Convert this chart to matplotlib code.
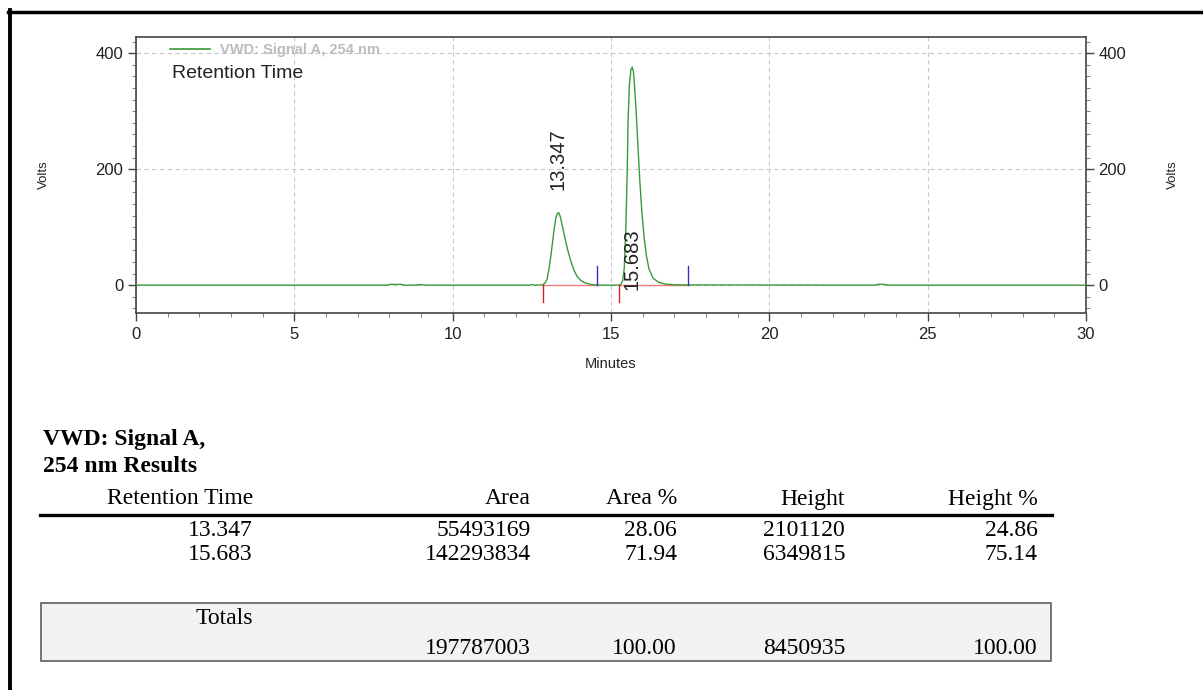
import matplotlib.pyplot as plt
from matplotlib.lines import Line2D
from matplotlib.patches import Rectangle
from matplotlib.ticker import MultipleLocator

plt.rcParams['font.family'] = ['Liberation Sans', 'DejaVu Sans']

# chromatogram trace (minutes, volts)
time_min = [0, 7.9, 8.05, 8.2, 8.35, 8.5, 8.85, 8.95, 9.05, 9.15,
            12.4, 12.5, 12.6, 12.84, 12.92, 12.98, 13.04, 13.10, 13.15, 13.20,
            13.26, 13.31, 13.35, 13.40, 13.46, 13.53, 13.60, 13.66, 13.74, 13.83,
            13.93, 14.05, 14.18, 14.33, 14.5, 14.7, 15.2, 15.30, 15.37, 15.42,
            15.47, 15.51, 15.54, 15.58, 15.63, 15.67, 15.71, 15.76, 15.81, 15.86,
            15.91, 15.97, 16.04, 16.12, 16.2, 16.33, 16.5, 16.7, 17.0,
            23.3, 23.45, 23.6, 23.75, 30]
signal = [0, 0, 1.5, 1.2, 1.5, 0, 0, 1.0, 0.8, 0,
          0, 1.0, 0, 0.5, 4, 10, 28, 50, 72, 95,
          116, 124, 125, 118, 103, 85, 68, 55, 40, 26,
          15, 8, 4, 1.5, 0.5, 0, 0, 0.5, 8, 30,
          100, 190, 284, 345, 372, 376, 368, 330, 284, 230,
          180, 130, 85, 50, 28, 12, 5, 2, 0.5,
          0, 1.5, 1.5, 0, 0]

peak_times = [13.347, 15.683]
peak_labels = ["13.347", "15.683"]
label_base = [164, -9]          # where the rotated labels start
peak_start = [12.84, 15.25]     # red marks
peak_end = [14.55, 17.42]       # blue marks

# results table
ret_times = [13.347, 15.683]
areas = [55493169, 142293834]
area_pct = [28.06, 71.94]
heights = [2101120, 6349815]
height_pct = [24.86, 75.14]
total_area = 197787003
total_area_pct = 100.00
total_height = 8450935
total_height_pct = 100.00

W, H = 1203, 690
fig = plt.figure(figsize=(W / 100, H / 100), dpi=100)
ax = fig.add_axes([136 / W, 1 - 313 / H, 950 / W, 276 / H])

green = '#3a9a3a'
ax.plot(time_min, signal, color=green, lw=1.0, zorder=3)
for s, e in zip(peak_start, peak_end):
    ax.plot([s, e], [0, 0], color='#f08080', lw=1.0, zorder=2)
    ax.plot([s, s], [0, -29], color='#e02020', lw=1.0, zorder=4)
    ax.plot([e, e], [0, 33], color='#3030c0', lw=1.0, zorder=4)
for t, lab, yb in zip(peak_times, peak_labels, label_base):
    ax.text(t - 0.03, yb, lab, rotation=90, ha='center', va='bottom',
            fontsize=14.5, color='#222222', zorder=5)

ax.set_xlim(0, 30)
ax.set_ylim(-48, 428)
ax.xaxis.set_major_locator(MultipleLocator(5))
ax.xaxis.set_minor_locator(MultipleLocator(1))
ax.yaxis.set_major_locator(MultipleLocator(200))
ax.yaxis.set_minor_locator(MultipleLocator(20))
ax.grid(True, which='major', linestyle=(0, (4, 3)), color='#c8c8c8', lw=0.8, zorder=0)
ax.tick_params(which='major', length=6, width=1, color='#444444',
               labelsize=12, labelcolor='#222222', pad=4)
ax.tick_params(which='minor', length=3, width=0.8, color='#888888')
ax.tick_params(axis='y', which='both', right=True, labelright=True, pad=3)
for sp in ax.spines.values():
    sp.set_color('#444444')
    sp.set_linewidth(1.2)

ax.set_xlabel("Minutes", fontsize=10.5, color='#222222')
ax.xaxis.set_label_coords(0.5, -0.16)
ax.set_ylabel("Volts", fontsize=9.5, color='#222222')
ax.yaxis.set_label_coords(-0.0905, 0.5)
ax.text(1.0916, 0.5, "Volts", rotation=90, ha='center', va='center',
        fontsize=9.5, color='#222222', transform=ax.transAxes)

ax.legend([Line2D([0], [0], color=green, lw=1.2)], ["VWD: Signal A, 254 nm"],
          loc='upper left', bbox_to_anchor=(0.036, 0.978), frameon=False,
          labelcolor='#bcbcbc', prop={'weight': 'bold', 'size': 10.5},
          handlelength=2.7, handletextpad=0.7, borderpad=0, borderaxespad=0)
ax.text(0.0378, 0.866, "Retention Time", fontsize=14, color='#222222',
        ha='left', va='center', transform=ax.transAxes)

# frame lines on left and top
fig.add_artist(Line2D([10 / W, 10 / W], [0, 1 - 10 / H], color='black', lw=2.8,
                      transform=fig.transFigure))
fig.add_artist(Line2D([8 / W, 1], [1 - 11.5 / H, 1 - 11.5 / H], color='black', lw=2.5,
                      transform=fig.transFigure))


def px(x, y):
    return x / W, 1 - y / H


serif = 'Liberation Serif'
fs = 17
fig.text(*px(43, 440), "VWD: Signal A,", fontsize=fs, weight='bold', family=serif,
         ha='left', va='center')
fig.text(*px(43, 467), "254 nm Results", fontsize=fs, weight='bold', family=serif,
         ha='left', va='center')

col_right = [253, 531, 677, 845, 1038]
headers = ["Retention Time", "Area", "Area %", "Height", "Height %"]
for x, h in zip(col_right, headers):
    fig.text(*px(x, 499), h, fontsize=fs, family=serif, ha='right', va='center')
fig.add_artist(Line2D([40 / W, 1052 / W], [1 - 515 / H, 1 - 515 / H], color='black',
                      lw=2.4, transform=fig.transFigure))

for i in range(len(ret_times)):
    y = 531 + 23 * i
    vals = [f"{ret_times[i]:.3f}", f"{areas[i]}", f"{area_pct[i]:.2f}",
            f"{heights[i]}", f"{height_pct[i]:.2f}"]
    for x, v in zip(col_right, vals):
        fig.text(*px(x, y), v, fontsize=fs, family=serif, ha='right', va='center')

fig.add_artist(Rectangle(px(41, 661), 1010 / W, 58 / H, facecolor='#f2f2f2',
                         edgecolor='#606060', lw=1.2, transform=fig.transFigure))
fig.text(*px(253, 618), "Totals", fontsize=fs, family=serif, ha='right', va='center')
tot_vals = [f"{total_area}", f"{total_area_pct:.2f}", f"{total_height}",
            f"{total_height_pct:.2f}"]
for x, v in zip(col_right[1:], tot_vals):
    fig.text(*px(x, 648), v, fontsize=fs, family=serif, ha='right', va='center')

fig.savefig("out.png", dpi=100)
